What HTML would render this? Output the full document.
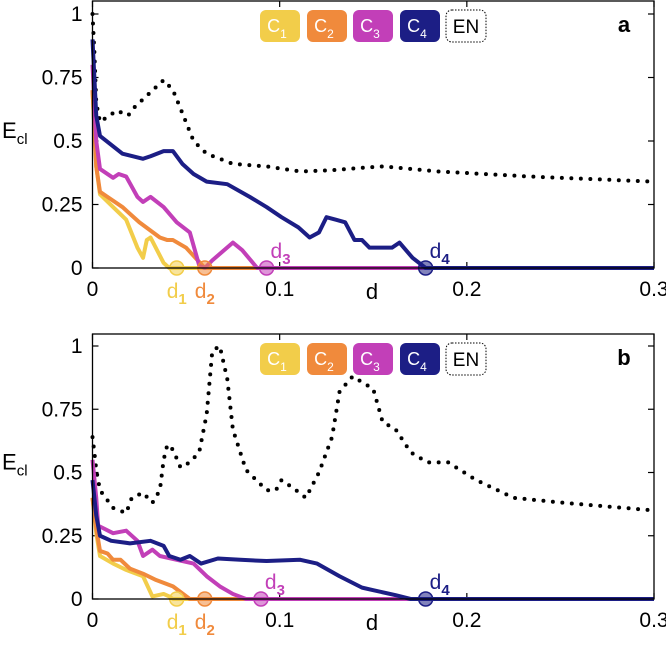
<!DOCTYPE html>
<html><head><meta charset="utf-8"><style>
body{margin:0;background:#fff;}
svg{display:block;font-family:"Liberation Sans",Arial,sans-serif;}
</style></head><body>
<svg id="chart" width="666" height="653" viewBox="0 0 666 653" xmlns="http://www.w3.org/2000/svg"></svg>
<script>
// ---- data (x = d, y = E_cl) ----
const xTicks=[0,0.1,0.2,0.3];
const xTickLabels=["0","0.1","0.2","0.3"];
const yTicks=[0,0.25,0.5,0.75,1];
const yTickLabels=["0","0.25","0.5","0.75","1"];
const seriesNames=["C1","C2","C3","C4","EN"];
// panel a
const aEN_x=[0,0.001,0.002,0.004,0.013,0.019,0.022,0.038,0.043,0.048,0.054,0.061,0.075,0.093,0.111,0.128,0.145,0.155,0.185,0.234,0.3];
const aEN_y=[1,0.85,0.65,0.575,0.62,0.60,0.63,0.74,0.70,0.61,0.50,0.45,0.41,0.40,0.38,0.385,0.395,0.40,0.38,0.36,0.34];
const aC4_x=[0,0.002,0.004,0.016,0.027,0.031,0.038,0.043,0.048,0.054,0.061,0.072,0.084,0.093,0.101,0.11,0.116,0.121,0.125,0.13,0.135,0.14,0.144,0.148,0.16,0.164,0.171,0.178,0.3];
const aC4_y=[0.9,0.6,0.52,0.45,0.43,0.44,0.46,0.46,0.41,0.37,0.34,0.33,0.28,0.24,0.20,0.16,0.12,0.14,0.20,0.19,0.18,0.11,0.11,0.08,0.08,0.10,0.04,0,0];
const aC3_x=[0,0.002,0.004,0.011,0.014,0.018,0.024,0.027,0.031,0.038,0.045,0.052,0.057,0.06,0.064,0.075,0.08,0.088,0.3];
const aC3_y=[0.8,0.5,0.39,0.355,0.37,0.36,0.28,0.26,0.28,0.24,0.18,0.14,0.01,0,0.03,0.10,0.07,0,0];
const aC2_x=[0,0.002,0.004,0.008,0.016,0.025,0.036,0.04,0.043,0.05,0.06,0.3];
const aC2_y=[0.7,0.4,0.30,0.28,0.24,0.18,0.12,0.11,0.11,0.08,0,0];
const aC1_x=[0,0.002,0.004,0.011,0.018,0.024,0.027,0.029,0.031,0.038,0.041,0.3];
const aC1_y=[0.7,0.4,0.29,0.24,0.19,0.08,0.04,0.11,0.12,0.02,0,0];
const aMarks_x=[0.045,0.06,0.093,0.178];
// panel b
const bEN_x=[0,0.001,0.002,0.004,0.011,0.018,0.021,0.027,0.032,0.036,0.038,0.040,0.043,0.047,0.052,0.057,0.061,0.064,0.068,0.072,0.075,0.082,0.093,0.098,0.101,0.107,0.114,0.121,0.128,0.132,0.139,0.150,0.155,0.162,0.170,0.179,0.190,0.205,0.225,0.252,0.3];
const bEN_y=[0.64,0.58,0.51,0.43,0.36,0.34,0.40,0.42,0.38,0.43,0.55,0.61,0.59,0.52,0.54,0.58,0.73,0.98,1.0,0.87,0.67,0.51,0.43,0.43,0.47,0.44,0.40,0.50,0.64,0.82,0.88,0.83,0.70,0.67,0.58,0.54,0.54,0.47,0.40,0.38,0.35];
const bC4_x=[0,0.002,0.004,0.010,0.020,0.031,0.038,0.041,0.047,0.052,0.058,0.067,0.079,0.093,0.111,0.120,0.132,0.144,0.150,0.162,0.170,0.3];
const bC4_y=[0.47,0.33,0.25,0.23,0.22,0.23,0.21,0.17,0.155,0.17,0.14,0.16,0.155,0.15,0.155,0.14,0.09,0.045,0.035,0.015,0,0];
const bC3_x=[0,0.002,0.003,0.011,0.018,0.024,0.027,0.032,0.036,0.045,0.054,0.061,0.068,0.075,0.082,0.3];
const bC3_y=[0.55,0.40,0.29,0.26,0.27,0.23,0.17,0.195,0.17,0.155,0.14,0.09,0.05,0.02,0,0];
const bC2_x=[0,0.002,0.004,0.008,0.011,0.015,0.020,0.027,0.034,0.043,0.052,0.3];
const bC2_y=[0.4,0.28,0.19,0.18,0.155,0.155,0.12,0.10,0.075,0.05,0,0];
const bC1_x=[0,0.002,0.004,0.011,0.018,0.027,0.032,0.038,0.041,0.043,0.3];
const bC1_y=[0.4,0.26,0.17,0.14,0.115,0.09,0.01,0.02,0.01,0,0];
const bMarks_x=[0.045,0.06,0.09,0.178];
</script>
<script>
const NS="http://www.w3.org/2000/svg";
const svg=document.getElementById('chart');
const colors=["#f2cd4a","#f08a3c","#c23fb8","#1c1e85"];
function mk(tag,attrs,parent){const e=document.createElementNS(NS,tag);for(const k in attrs)e.setAttribute(k,attrs[k]);(parent||svg).appendChild(e);return e;}
function subText(t,main,sub,subSize,bold){
  t.appendChild(document.createTextNode(main));
  const ts=mk('tspan',{'font-size':subSize,dy:6},t);
  if(bold)ts.setAttribute('font-weight','bold');
  ts.textContent=sub;
}
const X0=92.5,X1=654;
function xs(d){return X0+(X1-X0)*d/0.3;}
function drawPanel(p){
  const g=mk('g',{});
  
  
  const ys=v=>p.y0-(p.y0-p.y1)*v;
  const top=p.top;
  xTicks.forEach((t,i)=>{
    const x=xs(t);
    const tk=mk('line',{x1:x,x2:x,y1:p.y0,y2:p.y0-6,stroke:'#000','stroke-width':1.2},g);
    
    
    const tk2=mk('line',{x1:x,x2:x,y1:top,y2:top+6,stroke:'#000','stroke-width':1.2},g);
    
    
    const tl=mk('text',{x:x,y:p.y0+28,'font-size':21,'text-anchor':'middle'},g);
    tl.textContent=xTickLabels[i];
    
    
  });
  yTicks.forEach((t,i)=>{
    const y=ys(t);
    const tk=mk('line',{x1:X0,x2:X0+6,y1:y,y2:y,stroke:'#000','stroke-width':1.2},g);
    
    
    const tk2=mk('line',{x1:X1,x2:X1-6,y1:y,y2:y,stroke:'#000','stroke-width':1.2},g);
    
    
    const tl=mk('text',{x:X0-10,y:y+7,'font-size':21,'text-anchor':'end'},g);
    tl.textContent=yTickLabels[i];
    
    
  });
  const yt=mk('text',{x:2,y:ys(0.5)-3,'font-size':22},g);
  subText(yt,'E','cl',15,false);
  
  
  const xt=mk('text',{x:372,y:p.y0+31,'font-size':22,'text-anchor':'middle'},g);
  xt.textContent='d';
  
  
  const series=[p.c1,p.c2,p.c3,p.c4];
  const en=mk('polyline',{points:p.en[0].map((d,i)=>xs(d)+','+ys(p.en[1][i])).join(' '),fill:'none',stroke:'#000','stroke-width':4,'stroke-linecap':'round','stroke-dasharray':'0 9.5'},g);
  
  
  for(let s=0;s<4;s++){
    const l=mk('polyline',{points:series[s][0].map((d,i)=>xs(d)+','+ys(series[s][1][i])).join(' '),fill:'none',stroke:colors[s],'stroke-width':4,'stroke-linejoin':'round'},g);
    
    
  }
  p.marks.forEach((d,i)=>{
    const c=mk('circle',{cx:xs(d),cy:ys(0),r:7,fill:colors[i],'fill-opacity':0.55,stroke:colors[i],'stroke-width':1.5},g);
    
    
    const lx=i<2?xs(d):xs(d)+14;
    const ly=i<2?p.y0+30:p.y0-10;
    const t=mk('text',{x:lx,y:ly,'font-size':21,fill:colors[i],'text-anchor':'middle'},g);
    subText(t,'d',String(i+1),15,true);
    
    
  });
  const fr=mk('rect',{x:X0,y:top,width:X1-X0,height:p.y0-top,fill:'none',stroke:'#000','stroke-width':1.3},g);
  
  
  const lx=[260,307,353,400];
  for(let i=0;i<4;i++){
    const b=mk('rect',{x:lx[i],y:p.legY,width:40,height:32,rx:6,fill:colors[i]},g);
    
    
    const t=mk('text',{x:lx[i]+17,y:p.legY+22,'font-size':18,fill:'#fff','text-anchor':'middle'},g);
    subText(t,'C',String(i+1),12,false);
    
    
  }
  const eb=mk('rect',{x:446,y:p.legY,width:40,height:32,rx:6,fill:'#fff',stroke:'#000','stroke-width':1,'stroke-dasharray':'1.5 1.5'},g);
  
  
  const et=mk('text',{x:466,y:p.legY+23,'font-size':19,'text-anchor':'middle'},g);
  et.textContent='EN';
  
  
  const pl=mk('text',{x:624,y:p.legY+22,'font-size':22,'font-weight':'bold','text-anchor':'middle'},g);
  pl.textContent=p.label;
  
  
}
drawPanel({label:'a',top:1,y0:268,y1:14,legY:10,en:[aEN_x,aEN_y],c1:[aC1_x,aC1_y],c2:[aC2_x,aC2_y],c3:[aC3_x,aC3_y],c4:[aC4_x,aC4_y],marks:aMarks_x});
drawPanel({label:'b',top:334,y0:599,y1:346,legY:343,en:[bEN_x,bEN_y],c1:[bC1_x,bC1_y],c2:[bC2_x,bC2_y],c3:[bC3_x,bC3_y],c4:[bC4_x,bC4_y],marks:bMarks_x});
</script>
</body></html>
